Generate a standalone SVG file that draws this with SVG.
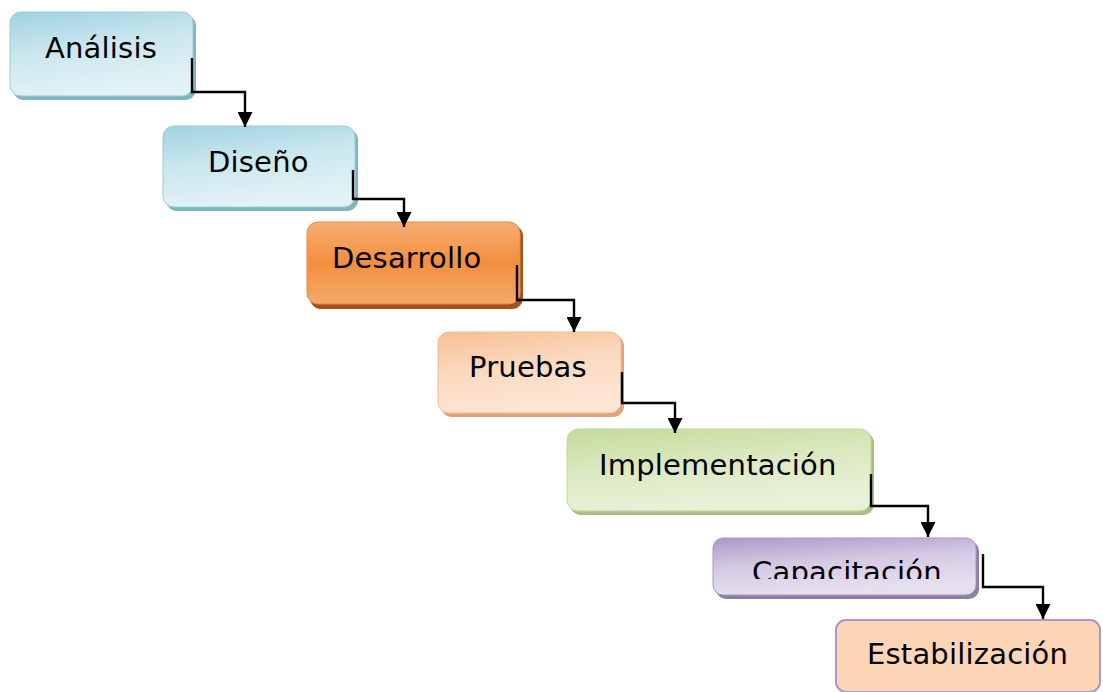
<svg xmlns="http://www.w3.org/2000/svg" width="1103" height="692" viewBox="0 0 1103 692">
<style>
.lbl{font-family:"DejaVu Sans","Liberation Sans",sans-serif;font-size:29px;letter-spacing:0.2px;fill:#000}
.conn{fill:none;stroke:#000;stroke-width:2.4}
</style>
<defs>
<marker id="ah" viewBox="0 0 10 10" refX="10" refY="5" markerUnits="userSpaceOnUse" markerWidth="17" markerHeight="15" orient="auto">
<path d="M0,0 L10,5 L0,10 z" fill="#000"/>
</marker>
<linearGradient id="gBlue" x1="0" y1="0" x2="0.3" y2="1">
<stop offset="0" stop-color="#9fd2df"/><stop offset="0.5" stop-color="#cbe7ee"/><stop offset="1" stop-color="#e2f2f6"/>
</linearGradient>
<linearGradient id="gOrange" x1="0" y1="0" x2="0" y2="1">
<stop offset="0" stop-color="#f6ae74"/><stop offset="0.5" stop-color="#f28f3e"/><stop offset="1" stop-color="#f5a96a"/>
</linearGradient>
<linearGradient id="gPeach" x1="0" y1="0" x2="0.3" y2="1">
<stop offset="0" stop-color="#f7bf93"/><stop offset="0.5" stop-color="#fbd9bf"/><stop offset="1" stop-color="#fde6d4"/>
</linearGradient>
<linearGradient id="gGreen" x1="0" y1="0" x2="0.3" y2="1">
<stop offset="0" stop-color="#c4dc9a"/><stop offset="0.5" stop-color="#dbe9c0"/><stop offset="1" stop-color="#e9f1d9"/>
</linearGradient>
<linearGradient id="gPurple" x1="0" y1="0" x2="0.3" y2="1">
<stop offset="0" stop-color="#ad98c9"/><stop offset="0.5" stop-color="#d5cae3"/><stop offset="1" stop-color="#e6e0ee"/>
</linearGradient>
<clipPath id="clipCap"><rect x="713" y="538" width="262" height="41"/></clipPath>
</defs>

<g id="node-analisis">
<rect x="13" y="15" width="183" height="85" rx="11" fill="#7fb4c2"/>
<rect x="10" y="12" width="183" height="84" rx="11" fill="url(#gBlue)" stroke="#9ccbd7" stroke-width="1"/>
<text class="lbl" x="45" y="58">Análisis</text>
</g>
<g id="node-diseno">
<rect x="166" y="129" width="192" height="82" rx="11" fill="#7fb4c2"/>
<rect x="163" y="126" width="192" height="81" rx="11" fill="url(#gBlue)" stroke="#9ccbd7" stroke-width="1"/>
<text class="lbl" x="208" y="172">Diseño</text>
</g>
<g id="node-desarrollo">
<rect x="310" y="225" width="213" height="84" rx="11" fill="#a4521a"/>
<rect x="307" y="222" width="213" height="82" rx="11" fill="url(#gOrange)" stroke="#e8893d" stroke-width="1"/>
<text class="lbl" x="332" y="268">Desarrollo</text>
</g>
<g id="node-pruebas">
<rect x="441" y="335" width="183" height="82" rx="11" fill="#e0a47c"/>
<rect x="438" y="332" width="183" height="81" rx="11" fill="url(#gPeach)" stroke="#f4bb92" stroke-width="1"/>
<text class="lbl" x="469" y="377">Pruebas</text>
</g>
<g id="node-implementacion">
<rect x="570" y="432" width="304" height="83" rx="11" fill="#a9bd86"/>
<rect x="567" y="429" width="304" height="82" rx="11" fill="url(#gGreen)" stroke="#c2d898" stroke-width="1"/>
<text class="lbl" x="599" y="475">Implementación</text>
</g>
<g id="node-capacitacion">
<rect x="716" y="541" width="263" height="58" rx="10" fill="#8c7fa6"/>
<rect x="713" y="538" width="263" height="57" rx="10" fill="url(#gPurple)" stroke="#ab98c8" stroke-width="1"/>
<text class="lbl" x="752" y="582" clip-path="url(#clipCap)">Capacitación</text>
</g>
<g id="node-estabilizacion">
<rect x="836" y="620" width="264" height="72" rx="10" fill="#fbd5b5" stroke="#a89ac4" stroke-width="2"/>
<text class="lbl" x="867" y="664">Estabilización</text>
</g>

<g id="connectors">
<path class="conn" d="M192,58 V92 H245 V127" marker-end="url(#ah)"/>
<path class="conn" d="M353,170 V199 H404 V227" marker-end="url(#ah)"/>
<path class="conn" d="M517,265 V300 H574 V332" marker-end="url(#ah)"/>
<path class="conn" d="M622,372 V403 H675 V433" marker-end="url(#ah)"/>
<path class="conn" d="M871,474 V506 H928 V537" marker-end="url(#ah)"/>
<path class="conn" d="M983,554 V587 H1043 V619" marker-end="url(#ah)"/>
</g>
</svg>
